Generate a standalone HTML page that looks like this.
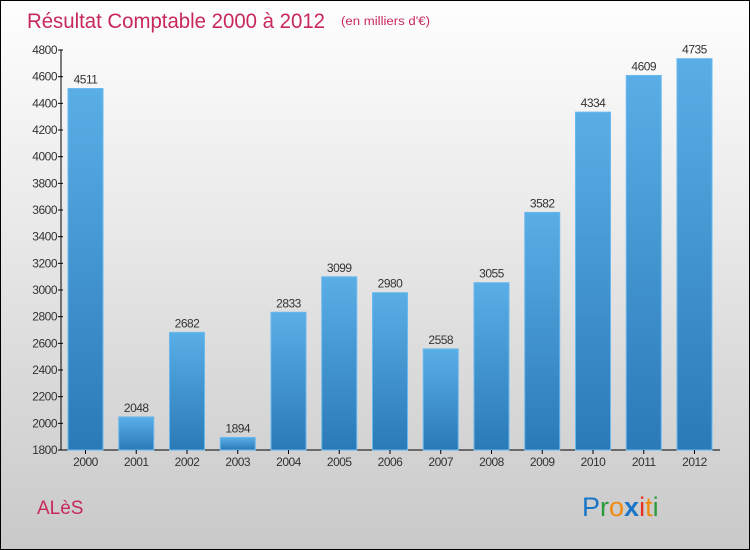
<!DOCTYPE html>
<html><head><meta charset="utf-8"><style>
html,body{margin:0;padding:0;}
body{width:750px;height:550px;overflow:hidden;font-family:"Liberation Sans",sans-serif;}
#frame{position:absolute;left:0;top:0;width:748px;height:548px;border:1px solid #000;background:linear-gradient(#fefefe,#f4f4f4 20%,#c9c9c9);}
</style></head><body>
<div id="frame">
<svg id="chart" width="750" height="550" style="position:absolute;left:-1px;top:-1px">
<defs>
<linearGradient id="bg" x1="0" y1="0" x2="0" y2="1"><stop offset="0" stop-color="#5aaee6"/><stop offset="1" stop-color="#2a7ab8"/></linearGradient>
</defs>
<text x="27" y="28" font-size="21" fill="#c8285a" textLength="298" lengthAdjust="spacingAndGlyphs">Résultat Comptable 2000 à 2012</text>
<text x="341" y="25" font-size="11.5" fill="#c8285a" textLength="89" lengthAdjust="spacingAndGlyphs">(en milliers d'€)</text>
<text x="37" y="514" font-size="19" fill="#c8285a">ALèS</text>
<g font-size="27" font-family="Liberation Sans, sans-serif">
<text x="582" y="516"><tspan fill="#1a75c8">P</tspan><tspan fill="#2a9a3a">r</tspan><tspan fill="#f08a10">o</tspan><tspan fill="#1a75c8" font-weight="bold">x</tspan><tspan fill="#e83020">i</tspan><tspan fill="#f08a10">t</tspan><tspan fill="#2a9a3a">i</tspan></text>
</g>
</svg>
</div>
<script>
const years=["2000","2001","2002","2003","2004","2005","2006","2007","2008","2009","2010","2011","2012"];
const values=[4511,2048,2682,1894,2833,3099,2980,2558,3055,3582,4334,4609,4735];
const yTicks=[1800,2000,2200,2400,2600,2800,3000,3200,3400,3600,3800,4000,4200,4400,4600,4800];
const svg=document.getElementById('chart');
const NS='http://www.w3.org/2000/svg';
const yMin=1800,yMax=4800,py0=450,py1=50;
function y(v){return py0-(v-yMin)/(yMax-yMin)*(py0-py1);}
function x(i){return 85.5+i*50.75;}
function mk(t,a,p){const e=document.createElementNS(NS,t);for(const k in a)e.setAttribute(k,a[k]);(p||svg).appendChild(e);return e;}
const ax=mk('line',{x1:61,y1:py1,x2:61,y2:py0,stroke:'#000','stroke-width':1});


const bx=mk('line',{x1:61,y1:py0,x2:720,y2:py0,stroke:'#000','stroke-width':1});


yTicks.forEach(v=>{
  const t=mk('line',{x1:58,y1:y(v),x2:63,y2:y(v),stroke:'#000'});
  
  
  const l=mk('text',{x:57,y:y(v)+4,'font-size':12,'text-anchor':'end',fill:'#333','letter-spacing':'-0.5'});
  l.textContent=v;
  
  
});
values.forEach((v,i)=>{
  const cx=x(i),top=y(v);
  const r=mk('rect',{x:cx-17.5,y:top,width:35,height:py0-top,fill:'url(#bg)',stroke:'#6ab8ee','stroke-width':1});
  
  
  const t=mk('text',{x:cx,y:top-5,'font-size':12,'text-anchor':'middle',fill:'#333','letter-spacing':'-0.5'});
  t.textContent=v;
  
  
  const tk=mk('line',{x1:cx,y1:py0,x2:cx,y2:py0+4,stroke:'#000'});
  
  
  const xl=mk('text',{x:cx,y:466,'font-size':12,'text-anchor':'middle',fill:'#333','letter-spacing':'-0.5'});
  xl.textContent=years[i];
  
  
});
</script>
</body></html>
